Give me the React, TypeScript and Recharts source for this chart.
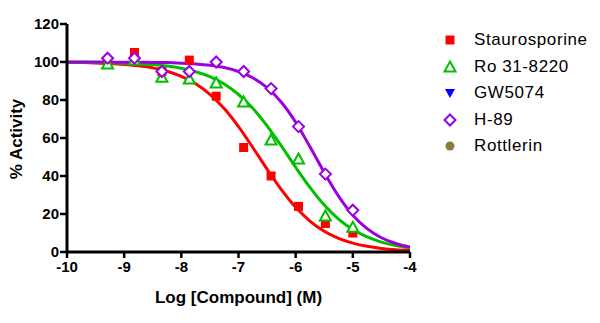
import React from 'react';
import { ComposedChart, Line, Scatter, XAxis, YAxis, Legend } from 'recharts';

// measured points (log M, % activity)
const doses = [-9.29, -8.82, -8.34, -7.86, -7.39, -6.91, -6.43, -5.95, -5.48, -5.0];
const staurosporine = [99, 105, 95, 101, 82, 55, 40, 24, 15, 10];
const ro318220 = [99, 101, 92, 91, 89, 79, 59, 49, 19, 13];
const gw5074: number[] = [];
const h89 = [102, 102, 95, 95, 100, 95, 86, 66, 41, 22];
const rottlerin: number[] = [];

// fitted curves
const curveX = [
  -10, -9.75, -9.5, -9.25, -9, -8.75, -8.5, -8.25, -8, -7.75, -7.5, -7.25, -7,
  -6.75, -6.5, -6.25, -6, -5.75, -5.5, -5.25, -5, -4.75, -4.5, -4.25, -4,
];
const staurosporineFit = [
  99.8, 99.7, 99.5, 99.2, 98.7, 98.0, 96.9, 95.1, 92.4, 88.5, 83.0, 75.5, 66.0,
  55.0, 43.6, 32.8, 23.5, 16.3, 10.9, 7.2, 4.7, 3.0, 1.9, 1.2, 0.8,
];
const ro318220Fit = [
  99.9, 99.9, 99.8, 99.6, 99.4, 99.1, 98.6, 97.9, 96.7, 94.9, 92.3, 88.4, 82.9,
  75.6, 66.4, 55.8, 44.6, 34.0, 24.7, 17.3, 11.8, 7.9, 5.2, 3.4, 2.2,
];
const h89Fit = [
  100, 100, 100, 99.96, 99.9, 99.9, 99.8, 99.7, 99.4, 99.0, 98.3, 97.1, 95.0,
  91.7, 86.5, 78.8, 68.3, 55.4, 41.9, 29.4, 19.4, 12.3, 7.5, 4.5, 2.6,
];

const xTicks = [-10, -9, -8, -7, -6, -5, -4];
const yTicks = [0, 20, 40, 60, 80, 100, 120];

const legendOrder = ['Staurosporine', 'Ro 31-8220', 'GW5074', 'H-89', 'Rottlerin'];

const FONT = '"Liberation Sans", Arial, sans-serif';

const toPoints = (vals: number[]) => vals.map((y, i) => ({ x: doses[i], y }));
const toCurve = (vals: number[]) => curveX.map((x, i) => ({ x, y: vals[i] }));

const colors: Record<string, string> = {
  Staurosporine: '#FF0000',
  'Ro 31-8220': '#00C000',
  GW5074: '#0000FF',
  'H-89': '#9B00E0',
  Rottlerin: '#8B7A3C',
};

const marker = (name: string, cx: number, cy: number) => {
  const c = colors[name];
  switch (name) {
    case 'Staurosporine':
      return <rect x={cx - 4.5} y={cy - 4.5} width={9} height={9} fill={c} />;
    case 'Ro 31-8220':
      return (
        <polygon
          points={`${cx},${cy - 5.5} ${cx + 5.5},${cy + 4.5} ${cx - 5.5},${cy + 4.5}`}
          fill="#fff"
          stroke={c}
          strokeWidth={2}
        />
      );
    case 'GW5074':
      return <polygon points={`${cx - 5},${cy - 4} ${cx + 5},${cy - 4} ${cx},${cy + 5}`} fill={c} />;
    case 'H-89':
      return (
        <polygon
          points={`${cx},${cy - 5.5} ${cx + 5.5},${cy} ${cx},${cy + 5.5} ${cx - 5.5},${cy}`}
          fill="#fff"
          stroke={c}
          strokeWidth={2}
        />
      );
    default:
      return <circle cx={cx} cy={cy} r={4.5} fill={c} />;
  }
};

const shapeFor = (name: string) => (props: any) => {
  if (props.cx == null || props.cy == null) return <g />;
  return marker(name, props.cx, props.cy);
};

const renderLegend = (props: any) => {
  const names = legendOrder.filter((n) => (props.payload || []).some((p: any) => p.value === n));
  return (
    <div style={{ fontFamily: FONT, fontSize: 17, color: '#000' }}>
      {names.map((n) => (
        <div key={n} style={{ display: 'flex', alignItems: 'center', height: 26.5 }}>
          <svg width={20} height={20} style={{ display: 'block' }}>
            {marker(n, 10, 10)}
          </svg>
          <span style={{ marginLeft: 14, letterSpacing: 0.6 }}>{n}</span>
        </div>
      ))}
    </div>
  );
};

const App = () => {
  return (
    <div style={{ position: 'absolute', left: 0, top: 0, width: 600, height: 323, background: '#fff' }}>
      <ComposedChart width={600} height={323} margin={{ top: 24, right: 190, bottom: 0, left: 0 }}>
        <XAxis
          type="number"
          dataKey="x"
          domain={[-10, -4]}
          ticks={xTicks}
          allowDataOverflow
          height={71}
          tickSize={6}
          tickMargin={3}
          axisLine={{ stroke: '#000', strokeWidth: 3 }}
          tickLine={{ stroke: '#000', strokeWidth: 2.5 }}
          tick={{ fill: '#000', fontSize: 15, fontWeight: 'bold', fontFamily: FONT }}
          label={{
            content: () => (
              <text
                x={238.5}
                y={303}
                textAnchor="middle"
                fontFamily={FONT}
                fontSize={17}
                fontWeight="bold"
                fill="#000"
              >
                Log [Compound] (M)
              </text>
            ),
          }}
        />
        <YAxis
          type="number"
          dataKey="y"
          domain={[0, 120]}
          ticks={yTicks}
          width={67}
          tickSize={7}
          tickMargin={1}
          axisLine={{ stroke: '#000', strokeWidth: 3 }}
          tickLine={{ stroke: '#000', strokeWidth: 2.5 }}
          tick={{ fill: '#000', fontSize: 15, fontWeight: 'bold', fontFamily: FONT }}
          label={{
            content: () => (
              <text
                x={0}
                y={0}
                transform="translate(22,139) rotate(-90)"
                textAnchor="middle"
                fontFamily={FONT}
                fontSize={17}
                fontWeight="bold"
                fill="#000"
              >
                % Activity
              </text>
            ),
          }}
        />
        <Legend
          layout="vertical"
          align="center"
          verticalAlign="middle"
          content={renderLegend}
          wrapperStyle={{ position: 'absolute', left: 440, top: 27, width: 160 }}
        />
        <Line data={toCurve(staurosporineFit)} dataKey="y" type="monotone" stroke={colors.Staurosporine} strokeWidth={3} dot={false} legendType="none" isAnimationActive={false} />
        <Line data={toCurve(ro318220Fit)} dataKey="y" type="monotone" stroke={colors['Ro 31-8220']} strokeWidth={3} dot={false} legendType="none" isAnimationActive={false} />
        <Line data={toCurve(h89Fit)} dataKey="y" type="monotone" stroke={colors['H-89']} strokeWidth={3} dot={false} legendType="none" isAnimationActive={false} />
        <Scatter name="Staurosporine" data={toPoints(staurosporine)} dataKey="y" fill={colors.Staurosporine} shape={shapeFor('Staurosporine')} isAnimationActive={false} />
        <Scatter name="Ro 31-8220" data={toPoints(ro318220)} dataKey="y" fill={colors['Ro 31-8220']} shape={shapeFor('Ro 31-8220')} isAnimationActive={false} />
        <Scatter name="GW5074" data={toPoints(gw5074)} dataKey="y" fill={colors.GW5074} shape={shapeFor('GW5074')} isAnimationActive={false} />
        <Scatter name="H-89" data={toPoints(h89)} dataKey="y" fill={colors['H-89']} shape={shapeFor('H-89')} isAnimationActive={false} />
        <Scatter name="Rottlerin" data={toPoints(rottlerin)} dataKey="y" fill={colors.Rottlerin} shape={shapeFor('Rottlerin')} isAnimationActive={false} />
      </ComposedChart>
    </div>
  );
};

export default App;
